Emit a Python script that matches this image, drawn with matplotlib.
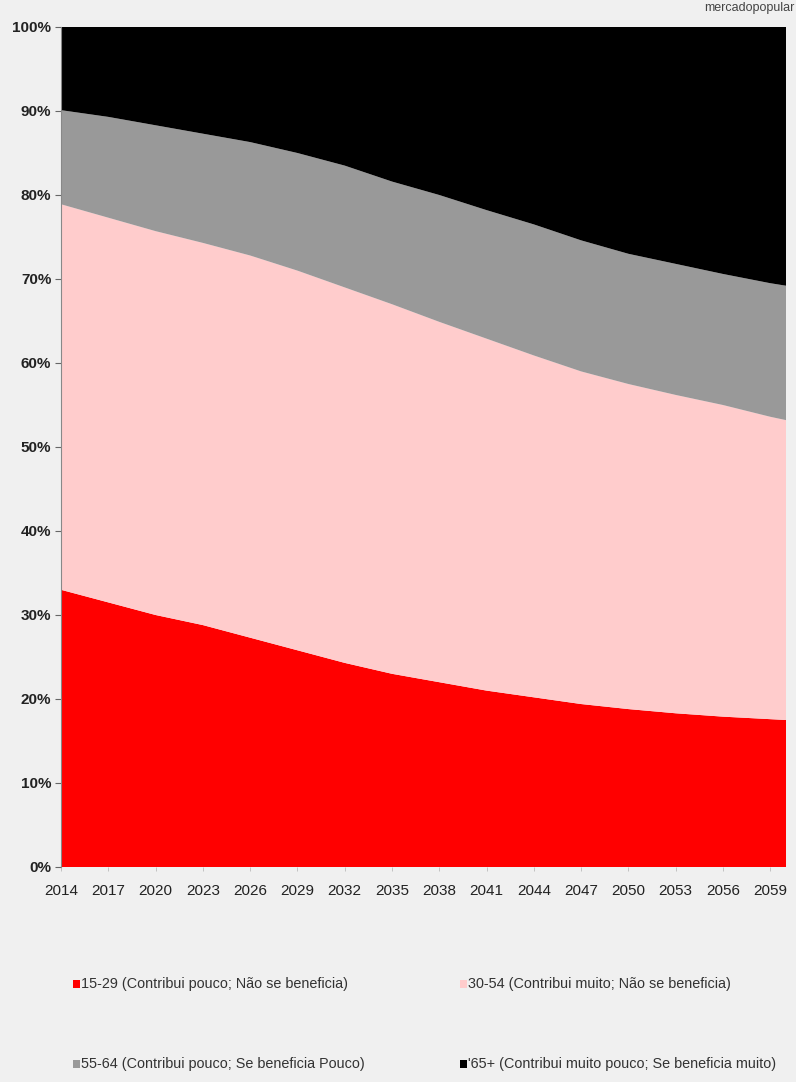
import matplotlib

matplotlib.use("Agg")
import matplotlib.pyplot as plt
from matplotlib.patches import Rectangle

# Population share by age group (%), Brazil projection
years = [2014, 2017, 2020, 2023, 2026, 2029, 2032, 2035, 2038, 2041,
         2044, 2047, 2050, 2053, 2056, 2059, 2060]
share_15_29 = [33.0, 31.5, 30.0, 28.8, 27.3, 25.8, 24.3, 23.0, 22.0, 21.0,
               20.2, 19.4, 18.8, 18.3, 17.9, 17.6, 17.5]
share_30_54 = [45.9, 45.8, 45.7, 45.5, 45.5, 45.2, 44.7, 44.0, 42.9, 41.9,
               40.7, 39.6, 38.7, 37.9, 37.1, 36.0, 35.7]
share_55_64 = [11.2, 12.0, 12.6, 13.0, 13.5, 14.0, 14.5, 14.6, 15.1, 15.3,
               15.6, 15.6, 15.5, 15.6, 15.6, 15.9, 16.0]
share_65 = [9.9, 10.7, 11.7, 12.7, 13.7, 15.0, 16.5, 18.4, 20.0, 21.8,
            23.5, 25.4, 27.0, 28.2, 29.4, 30.5, 30.8]

labels = [
    "15-29 (Contribui pouco; Não se beneficia)",
    "30-54 (Contribui muito; Não se beneficia)",
    "55-64 (Contribui pouco; Se beneficia Pouco)",
    "'65+ (Contribui muito pouco; Se beneficia muito)",
]
colors = ["#ff0000", "#ffcccc", "#999999", "#000000"]
tick_years = list(range(2014, 2060, 3))

font = ["Liberation Sans", "DejaVu Sans"]
bg = "#f0f0f0"
W, H = 796, 1082

fig = plt.figure(figsize=(W / 100, H / 100), dpi=100, facecolor=bg)
ax = fig.add_axes([61 / W, 1 - 867 / H, 725 / W, 840 / H])
ax.set_facecolor(bg)

ax.stackplot(years, share_15_29, share_30_54, share_55_64, share_65,
             colors=colors, linewidth=0)

ax.set_xlim(2014, 2060)
ax.set_ylim(0, 100)

ax.set_yticks(range(0, 101, 10))
ax.set_yticklabels([f"{v}%" for v in range(0, 101, 10)],
                   family=font, fontsize=11, fontweight="bold", color="#222222")
ax.set_xticks(tick_years)
ax.set_xticklabels([str(y) for y in tick_years], family=font, fontsize=11,
                   color="#222222")
ax.tick_params(axis="y", length=4, width=0.8, color="#666666", pad=3)
ax.tick_params(axis="x", length=3, width=0.6, color="#bbbbbb", pad=9)

for side in ["top", "right", "bottom"]:
    ax.spines[side].set_visible(False)
ax.spines["left"].set_color("#888888")

# legend laid out in two rows of two entries
legend_pos = [(73, 984), (460, 984), (73, 1064), (460, 1064)]
for (px, py), color, label in zip(legend_pos, colors, labels):
    fig.patches.append(Rectangle((px / W, 1 - (py + 4) / H), 7 / W, 8 / H,
                                 facecolor=color, edgecolor="none",
                                 transform=fig.transFigure, figure=fig))
    fig.text((px + 8) / W, 1 - py / H, label, family=font, fontsize=10.4,
             color="#333333", ha="left", va="center")

fig.text(0.998, 0.9985, "mercadopopular", family=font, fontsize=9,
         color="#444444", ha="right", va="top")

fig.savefig("out.png", dpi=100, facecolor=bg)
